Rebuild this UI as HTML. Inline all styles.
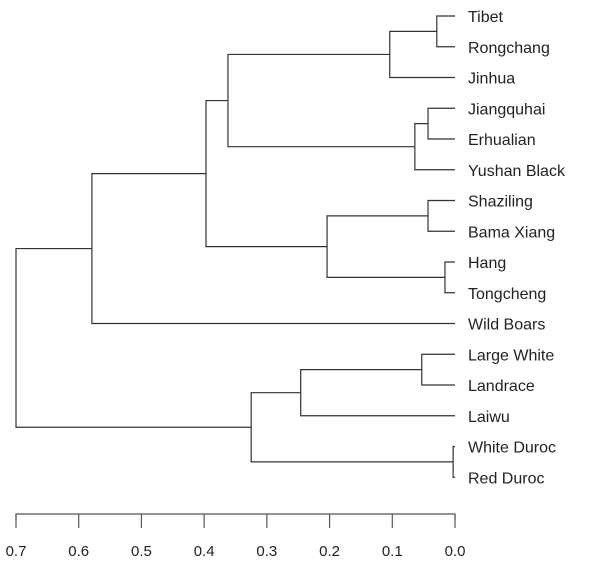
<!DOCTYPE html>
<html><head><meta charset="utf-8"><style>
body{margin:0;background:#fff;}
svg{display:block;font-family:"Liberation Sans",Arial,sans-serif;}
</style></head><body>
<svg id="chart" width="600" height="561" viewBox="0 0 600 561"></svg>
<script>
const leaves=["Tibet","Rongchang","Jinhua","Jiangquhai","Erhualian","Yushan Black","Shaziling","Bama Xiang","Hang","Tongcheng","Wild Boars","Large White","Landrace","Laiwu","White Duroc","Red Duroc"];
// merges: negative = leaf index (-(i+1)), positive = merge index+1
const mergeA=[-1,1,-4,3,2,-7,-9,6,5,9,-12,11,-15,12,10];
const mergeB=[-2,-3,-5,-6,4,-8,-10,7,8,-11,-13,-14,-16,13,14];
const mergeH=[0.029,0.104,0.043,0.064,0.362,0.043,0.016,0.204,0.397,0.579,0.053,0.246,0.003,0.325,0.700];
const ticks=[0.7,0.6,0.5,0.4,0.3,0.2,0.1,0.0];
const svg=document.getElementById('chart');
const NS='http://www.w3.org/2000/svg';
const x=h=>455-h*(439/0.7);
const yLeaf=i=>16+i*30.75;
function mk(t,a){const e=document.createElementNS(NS,t);for(const k in a)e.setAttribute(k,a[k]);svg.appendChild(e);return e;}
const pos=[];
function node(c){return c<0?{x:x(0),y:yLeaf(-c-1)}:pos[c-1];}
for(let m=0;m<mergeH.length;m++){
  const a=node(mergeA[m]),b=node(mergeB[m]),hx=x(mergeH[m]);
  const p=mk('path',{d:`M${a.x},${a.y}H${hx}V${b.y}H${b.x}`,fill:'none',stroke:'#333','stroke-width':1.2});
  
  
  pos.push({x:hx,y:(a.y+b.y)/2});
}
leaves.forEach((n,i)=>{
  const t=mk('text',{x:468,y:yLeaf(i)+6,'font-size':16,fill:'#222'});
  t.textContent=n;
  
  
});
const ax=mk('path',{d:`M${x(0.7)},520V514H${x(0)}V520`,fill:'none',stroke:'#555','stroke-width':1.2});


ticks.forEach(v=>{
  const l=mk('line',{x1:x(v),x2:x(v),y1:514,y2:528,stroke:'#555','stroke-width':1.2});
  
  
  const t=mk('text',{x:x(v),y:556,'font-size':15,fill:'#222','text-anchor':'middle'});
  t.textContent=v.toFixed(1);
  
  
});
</script>
</body></html>
